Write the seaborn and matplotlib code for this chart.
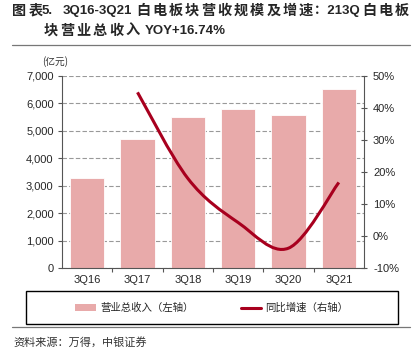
import matplotlib
matplotlib.use("Agg")
import matplotlib.pyplot as plt
import seaborn as sns
import pandas as pd
import numpy as np
from matplotlib.path import Path
from matplotlib.patches import PathPatch, Patch, Rectangle
from matplotlib.lines import Line2D
from matplotlib.ticker import FuncFormatter, FixedLocator

# data
quarters = ['3Q16', '3Q17', '3Q18', '3Q19', '3Q20', '3Q21']
revenue = [3270, 4720, 5510, 5810, 5590, 6530]          # 亿元, left axis
yoy = [np.nan, 44.9, 18.0, 4.2, -3.8, 16.74]            # %, right axis

# title pieces (x start in px); the original pdf spreads the CJK characters out
title_line1 = [(12, '图表'), (42, '5.'), (63, '3Q16-3Q21'), (136, '白电板块营收规模及增速'),
               (314, '：213Q'), (362, '白电板')]
title_line2 = [(44, '块营业总收入'), (145, 'YOY+16.74%')]

bar_color = '#E8AAAA'
line_color = '#A8001E'
cjk = ['Liberation Sans', 'Noto Sans CJK SC', 'DejaVu Sans']
W, H = 414, 353

sns.set_style('white')
plt.rcParams['font.family'] = cjk

df = pd.DataFrame({'quarter': quarters, 'revenue': revenue, 'yoy': yoy})

fig = plt.figure(figsize=(W / 100, H / 100), dpi=100)
ax = fig.add_axes([62 / W, 1 - 268 / H, 302 / W, 192 / H])

sns.barplot(data=df, x='quarter', y='revenue', color=bar_color, width=0.68,
            saturation=1, edgecolor='white', linewidth=0.6, ax=ax, zorder=2)
ax.set_xlim(-0.5, 5.5)
ax.set_ylim(0, 7000)
ax.set_yticks(range(0, 7001, 1000))
ax.yaxis.set_major_formatter(FuncFormatter(lambda v, p: f'{int(v):,}'))
ax.yaxis.grid(True, linestyle=(0, (4, 2)), color='#999999', linewidth=0.8, zorder=0)
ax.set_axisbelow(True)
ax.set_xlabel('')
ax.set_ylabel('')
for s in ['top', 'right']:
    ax.spines[s].set_visible(False)
for s in ['left', 'bottom']:
    ax.spines[s].set_color('#555555')
    ax.spines[s].set_linewidth(0.8)
ax.tick_params(axis='y', which='major', direction='out', length=3, width=0.8,
               color='#555555', labelsize=8, pad=3, left=True)
ax.xaxis.set_minor_locator(FixedLocator(np.arange(0.5, 5.5, 1.0)))
ax.tick_params(axis='x', which='major', length=0, labelsize=8, pad=5)
ax.tick_params(axis='x', which='minor', direction='out', length=3, width=0.8,
               color='#555555', bottom=True)

# right axis: yoy growth, smooth line
ax2 = ax.twinx()
ax2.set_ylim(-10, 50)
ax2.set_yticks(range(-10, 51, 10))
ax2.yaxis.set_major_formatter(FuncFormatter(lambda v, p: f'{int(v)}%'))
ax2.tick_params(axis='y', direction='inout', length=5, width=0.8,
                color='#555555', labelsize=8, pad=4)
for s in ['top', 'left', 'bottom']:
    ax2.spines[s].set_visible(False)
ax2.spines['right'].set_color('#555555')
ax2.spines['right'].set_linewidth(0.8)
ax2.grid(False)

# smoothed line (Excel-style catmull-rom bezier) through the yoy points
xs = [i for i, v in enumerate(yoy) if not np.isnan(v)]
ys = [v for v in yoy if not np.isnan(v)]
pts = list(zip(xs, ys))
verts = [pts[0]]
codes = [Path.MOVETO]
for i in range(len(pts) - 1):
    p0 = pts[i - 1] if i > 0 else pts[i]
    p1, p2 = pts[i], pts[i + 1]
    p3 = pts[i + 2] if i + 2 < len(pts) else pts[i + 1]
    c1 = (p1[0] + (p2[0] - p0[0]) / 6, p1[1] + (p2[1] - p0[1]) / 6)
    c2 = (p2[0] - (p3[0] - p1[0]) / 6, p2[1] - (p3[1] - p1[1]) / 6)
    verts += [c1, c2, p2]
    codes += [Path.CURVE4] * 3
ax2.add_patch(PathPatch(Path(verts, codes), facecolor='none', edgecolor=line_color,
                        linewidth=2.2, capstyle='butt', zorder=3))


def is_cjk(ch):
    return ord(ch) > 0x2e80


def title_line(pieces, y_px, pitch=16.3):
    for x_px, s in pieces:
        if all(is_cjk(c) for c in s):
            for k, c in enumerate(s):
                fig.text((x_px + k * pitch) / W, 1 - y_px / H, c, fontsize=10.2,
                         fontweight='bold', va='center', ha='left',
                         family=['Noto Sans CJK SC', 'DejaVu Sans'])
        else:
            fig.text(x_px / W, 1 - y_px / H, s, fontsize=9.5, fontweight='bold',
                     va='center', ha='left', family=cjk)


title_line(title_line1, 11)
title_line(title_line2, 30.5)
fig.add_artist(Line2D([12 / W, 410 / W], [1 - 45 / H] * 2, color='#777777', linewidth=0.9))
fig.text(55 / W, 1 - 62 / H, '(亿元)', fontsize=7, va='center', ha='center',
         color='#333333', family=['Noto Sans CJK SC', 'DejaVu Sans'])

# legend
handles = [Patch(facecolor=bar_color, edgecolor='none'),
           Line2D([0], [0], color=line_color, linewidth=2.2)]
labels = ['营业总收入（左轴）', '同比增速（右轴）']
fig.legend(handles, labels, loc='center', bbox_to_anchor=(212 / W, 1 - 308 / H),
           ncol=2, frameon=False, handlelength=2.0, handleheight=0.6,
           handletextpad=0.4, columnspacing=4.5,
           prop={'family': ['Noto Sans CJK SC', 'DejaVu Sans'], 'size': 7.5})
fig.add_artist(Rectangle((26 / W, 1 - 324 / H), 372 / W, 33 / H,
                         transform=fig.transFigure, fill=False, edgecolor='black', linewidth=1.0))
fig.add_artist(Line2D([12 / W, 410 / W], [1 - 327 / H] * 2, color='#777777', linewidth=0.9))
fig.text(13 / W, 1 - 342 / H, '资料来源：万得，中银证券', fontsize=8, style='italic',
         va='center', ha='left', color='#333333', family=['Noto Sans CJK SC', 'DejaVu Sans'])

fig.savefig('out.png', dpi=100)
